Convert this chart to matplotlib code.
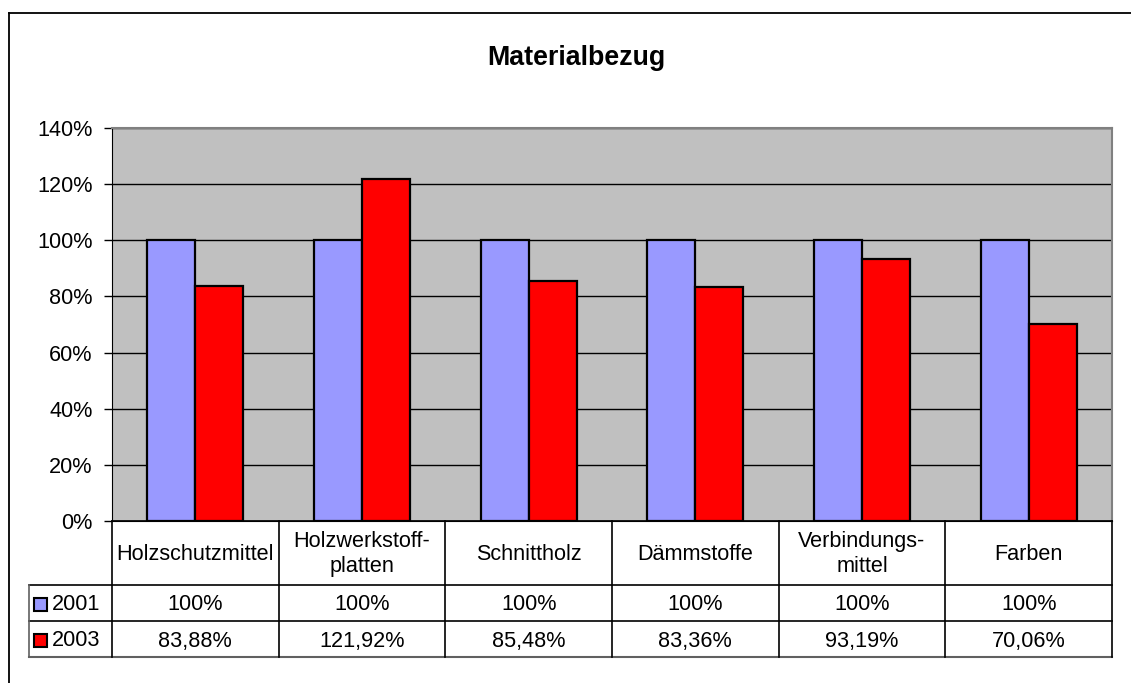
import matplotlib
matplotlib.use("Agg")
import matplotlib.pyplot as plt
from matplotlib.lines import Line2D
from matplotlib.patches import Rectangle
from matplotlib.transforms import blended_transform_factory

plt.rcParams['font.family'] = ['Liberation Sans', 'DejaVu Sans']

title = "Materialbezug"
categories = ["Holzschutzmittel", "Holzwerkstoff-\nplatten", "Schnittholz",
              "Dämmstoffe", "Verbindungs-\nmittel", "Farben"]
series_names = ["2001", "2003"]
values_2001 = [100, 100, 100, 100, 100, 100]
values_2003 = [83.88, 121.92, 85.48, 83.36, 93.19, 70.06]
labels_2001 = ["100%", "100%", "100%", "100%", "100%", "100%"]
labels_2003 = ["83,88%", "121,92%", "85,48%", "83,36%", "93,19%", "70,06%"]
yticks = [0, 20, 40, 60, 80, 100, 120, 140]
ytick_labels = ["0%", "20%", "40%", "60%", "80%", "100%", "120%", "140%"]

colors = ["#9999FF", "#FF0000"]

W, H = 1131, 683
fig = plt.figure(figsize=(W / 100, H / 100), dpi=100)
fig.patch.set_facecolor("white")

def fy(y):
    return 1 - y / H

def fx(x):
    return x / W

# figure border (top and left visible)
fig.add_artist(Line2D([fx(9), fx(9)], [fy(13), fy(H + 5)], color="black", lw=1.3,
                      transform=fig.transFigure))
fig.add_artist(Line2D([fx(9), fx(W + 5)], [fy(13), fy(13)], color="black", lw=1.3,
                      transform=fig.transFigure))

ax_l, ax_r, ax_t, ax_b = 112, 1112, 128, 521
ax = fig.add_axes([fx(ax_l), fy(ax_b), (ax_r - ax_l) / W, (ax_b - ax_t) / H])
ax.set_facecolor("#C0C0C0")
n = len(categories)
ax.set_xlim(-0.5, n - 0.5)
ax.set_ylim(0, 140)
ax.set_yticks(yticks)
ax.set_yticklabels(ytick_labels, fontsize=15.6)
ax.set_xticks([])
ax.yaxis.grid(True, color="black", lw=1.0)
ax.set_axisbelow(True)
ax.tick_params(axis="y", length=6, width=1, color="black", pad=8)
for s in ["top", "right"]:
    ax.spines[s].set_color("#808080")
    ax.spines[s].set_linewidth(1.5)
ax.spines["left"].set_color("black")
ax.spines["bottom"].set_color("black")

bw = 0.288
xs = list(range(n))
ax.bar([x - bw / 2 for x in xs], values_2001, width=bw, color=colors[0],
       edgecolor="black", linewidth=1.6, zorder=3)
ax.bar([x + bw / 2 for x in xs], values_2003, width=bw, color=colors[1],
       edgecolor="black", linewidth=1.6, zorder=3)

fig.text(fx(576), fy(58), title, ha="center", va="center", fontsize=19.3,
         fontweight="bold")

# data table
bt = blended_transform_factory(ax.transData, fig.transFigure)
ft = fig.transFigure
y_hdr, y_r1, y_r2, y_end = 521, 585, 621, 657
x_lab = 29
lc = "black"
fig.add_artist(Line2D([fx(ax_l), fx(ax_r)], [fy(y_hdr), fy(y_hdr)], color=lc, lw=1.2, transform=ft))
for yy in (y_r1, y_r2):
    fig.add_artist(Line2D([fx(x_lab), fx(ax_r)], [fy(yy), fy(yy)], color=lc, lw=1.2, transform=ft))
fig.add_artist(Line2D([fx(x_lab), fx(ax_r)], [fy(y_end), fy(y_end)], color="#606060", lw=1.5, transform=ft))
fig.add_artist(Line2D([fx(x_lab), fx(x_lab)], [fy(y_r1), fy(y_end)], color="#606060", lw=1.2, transform=ft))
for i in range(n + 1):
    b = i - 0.5
    fig.add_artist(Line2D([b, b], [fy(y_hdr), fy(y_end)], color=lc, lw=1.2,
                          transform=bt, clip_on=False))

fs = 15.6
for i, c in enumerate(categories):
    fig.text(i, fy((y_hdr + y_r1) / 2 + 1), c, transform=bt, ha="center", va="center",
             fontsize=fs, linespacing=1.25)
    fig.text(i, fy((y_r1 + y_r2) / 2 + 2), labels_2001[i], transform=bt, ha="center",
             va="center", fontsize=fs)
    fig.text(i, fy((y_r2 + y_end) / 2 + 2), labels_2003[i], transform=bt, ha="center",
             va="center", fontsize=fs)

for k, (yy0, yy1) in enumerate([(y_r1, y_r2), (y_r2, y_end)]):
    yc = (yy0 + yy1) / 2
    fig.add_artist(Rectangle((fx(34), fy(yc + 8)), 13 / W, 13 / H, facecolor=colors[k],
                             edgecolor="black", lw=1.5, transform=ft))
    fig.text(fx(52), fy(yc + 2), series_names[k], ha="left", va="center", fontsize=fs)

fig.savefig("out.png", dpi=100)
